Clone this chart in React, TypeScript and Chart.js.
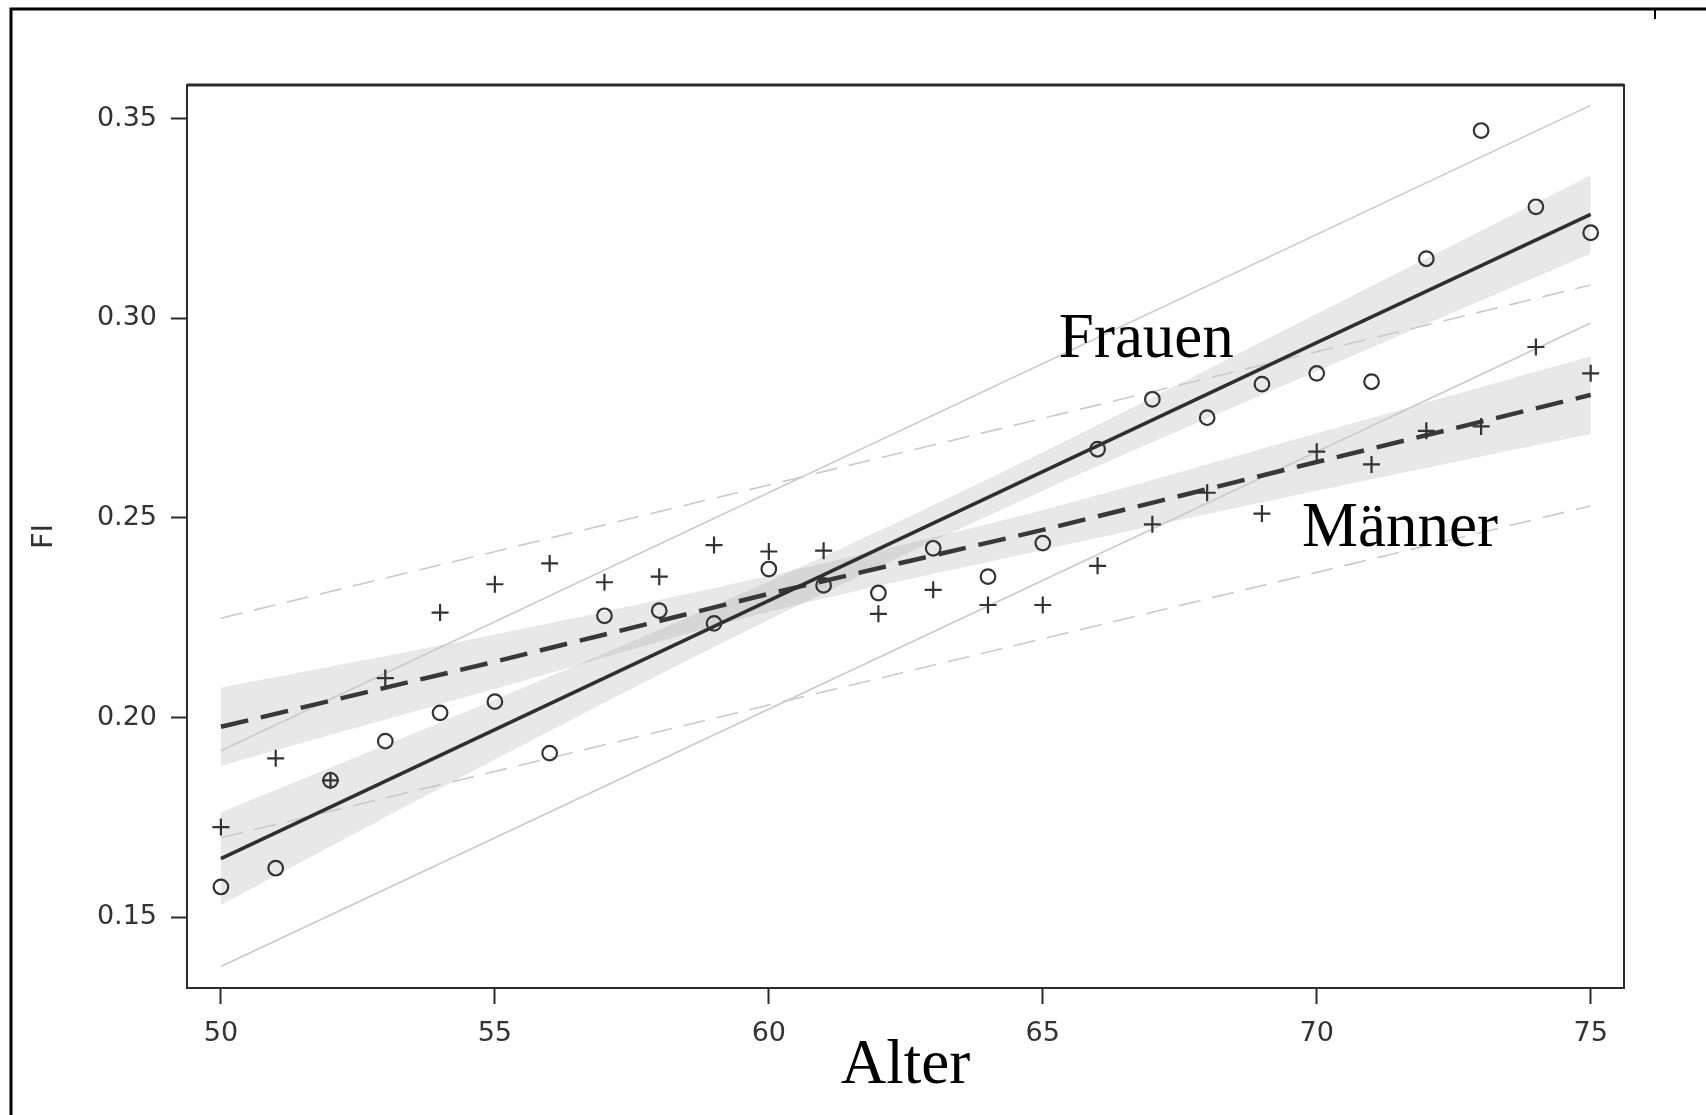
import React, { useEffect, useRef } from "react";
import { Chart, registerables } from "chart.js";

Chart.register(...registerables);

// ---- data ----
const ages = [50, 51, 52, 53, 54, 55, 56, 57, 58, 59, 60, 61, 62, 63, 64, 65, 66, 67, 68, 69, 70, 71, 72, 73, 74, 75];
const frauenFI = [0.1576, 0.1623, 0.1843, 0.1941, 0.2012, 0.204, 0.1911, 0.2255, 0.2268, 0.2236, 0.2372, 0.2331, 0.2312, 0.2424, 0.2353, 0.2437, 0.2672, 0.2797, 0.2751, 0.2835, 0.2862, 0.2841, 0.3149, 0.347, 0.3279, 0.3214];
const maennerFI = [0.1726, 0.1898, 0.1843, 0.2099, 0.2263, 0.2334, 0.2386, 0.2339, 0.2353, 0.2432, 0.2416, 0.2418, 0.226, 0.232, 0.2282, 0.2282, 0.238, 0.2484, 0.2563, 0.2511, 0.2666, 0.2634, 0.2718, 0.2729, 0.2928, 0.2862];

const fitAges = [50, 55, 60, 65, 70, 75];
const frauenFit = [0.1647, 0.197, 0.2293, 0.2616, 0.2939, 0.326];
const maennerFit = [0.1977, 0.214, 0.231, 0.247, 0.264, 0.2808];
const frauenCIUpper = [0.1763, 0.2045, 0.2341, 0.2664, 0.3011, 0.3358];
const frauenCILower = [0.1531, 0.1895, 0.2245, 0.2568, 0.2867, 0.3162];
const maennerCIUpper = [0.2075, 0.2208, 0.2355, 0.252, 0.2712, 0.2905];
const maennerCILower = [0.1879, 0.2072, 0.2265, 0.242, 0.2568, 0.2711];

const predAges = [50, 75];
const frauenPIUpper = [0.1917, 0.3533];
const frauenPILower = [0.1377, 0.2988];
const maennerPIUpper = [0.2249, 0.3083];
const maennerPILower = [0.1699, 0.253];

const xTickValues = [50, 55, 60, 65, 70, 75];
const yTickValues = [0.15, 0.2, 0.25, 0.3, 0.35];

const groupLabels = ["Frauen", "Männer"];
const groupLabelAges = [66.89, 71.52];
const groupLabelFI = [0.2903, 0.243];

const xTitle = "Alter";
const yTitle = "FI";

// ---- helpers ----
const pts = (xs: number[], ys: number[]) => xs.map((x, i) => ({ x, y: ys[i] }));

const W = 1706;
const H = 1115;

const decorPlugin = {
  id: "decor",
  beforeDraw(chart: any) {
    const ctx = chart.ctx;
    ctx.save();
    ctx.fillStyle = "#ffffff";
    ctx.fillRect(0, 0, chart.width, chart.height);
    ctx.restore();
  },
  afterDraw(chart: any) {
    const { ctx, chartArea: a, scales } = chart;
    ctx.save();
    // plot frame
    ctx.strokeStyle = "#2b2b2b";
    ctx.lineWidth = 2;
    ctx.strokeRect(a.left, a.top, a.right - a.left, a.bottom - a.top);
    ctx.lineWidth = 3;
    ctx.beginPath();
    ctx.moveTo(a.left, a.top);
    ctx.lineTo(a.right, a.top);
    ctx.stroke();
    // outer frame
    ctx.strokeStyle = "#000000";
    ctx.lineWidth = 3;
    ctx.beginPath();
    ctx.moveTo(11, H);
    ctx.lineTo(11, 9);
    ctx.lineTo(W, 9);
    ctx.stroke();
    ctx.lineWidth = 2;
    ctx.beginPath();
    ctx.moveTo(1655, 9);
    ctx.lineTo(1655, 19);
    ctx.stroke();
    // group labels
    ctx.fillStyle = "#000000";
    ctx.font = '63px "Liberation Serif", "Times New Roman", serif';
    ctx.textAlign = "center";
    ctx.textBaseline = "alphabetic";
    groupLabels.forEach((t, i) => {
      ctx.fillText(t, scales.x.getPixelForValue(groupLabelAges[i]), scales.y.getPixelForValue(groupLabelFI[i]));
    });
    ctx.restore();
  },
};

export default function App() {
  const ref = useRef<HTMLCanvasElement | null>(null);

  useEffect(() => {
    if (!ref.current) return;
    const dark = "#333333";
    const bandFill = "rgba(150,150,150,0.22)";
    const predColor = "#cacaca";

    const lineBase = { showLine: true, pointRadius: 0, fill: false };
    const bandBase = {
      type: "line",
      showLine: true,
      pointRadius: 0,
      borderWidth: 0,
      borderColor: "rgba(0,0,0,0)",
      tension: 0.3,
    };

    const chart = new Chart(ref.current, {
      type: "scatter",
      data: {
        datasets: [
          {
            label: "Frauen",
            data: pts(ages, frauenFI),
            pointStyle: "circle",
            pointRadius: 7.3,
            pointBorderWidth: 2.2,
            pointBorderColor: dark,
            pointBackgroundColor: "rgba(0,0,0,0)",
            showLine: false,
          },
          {
            label: "Männer",
            data: pts(ages, maennerFI),
            pointStyle: "cross",
            pointRadius: 8.5,
            pointBorderWidth: 2.2,
            pointBorderColor: dark,
            pointBackgroundColor: dark,
            showLine: false,
          },
          {
            ...lineBase,
            type: "line",
            label: "Frauen Regression",
            data: pts(fitAges, frauenFit),
            borderColor: "#2f2f2f",
            borderWidth: 3.6,
          },
          {
            ...lineBase,
            type: "line",
            label: "Männer Regression",
            data: pts(fitAges, maennerFit),
            borderColor: "#383838",
            borderWidth: 4.5,
            borderDash: [28, 13],
          },
          {
            ...lineBase,
            type: "line",
            label: "Frauen PI oben",
            data: pts(predAges, frauenPIUpper),
            borderColor: predColor,
            borderWidth: 1.6,
          },
          {
            ...lineBase,
            type: "line",
            label: "Frauen PI unten",
            data: pts(predAges, frauenPILower),
            borderColor: predColor,
            borderWidth: 1.6,
          },
          {
            ...lineBase,
            type: "line",
            label: "Männer PI oben",
            data: pts(predAges, maennerPIUpper),
            borderColor: predColor,
            borderWidth: 1.6,
            borderDash: [22, 12],
          },
          {
            ...lineBase,
            type: "line",
            label: "Männer PI unten",
            data: pts(predAges, maennerPILower),
            borderColor: predColor,
            borderWidth: 1.6,
            borderDash: [22, 12],
          },
          {
            ...bandBase,
            label: "Frauen KI oben",
            data: pts(fitAges, frauenCIUpper),
            backgroundColor: bandFill,
            fill: "+1",
          },
          {
            ...bandBase,
            label: "Frauen KI unten",
            data: pts(fitAges, frauenCILower),
            fill: false,
          },
          {
            ...bandBase,
            label: "Männer KI oben",
            data: pts(fitAges, maennerCIUpper),
            backgroundColor: bandFill,
            fill: "+1",
          },
          {
            ...bandBase,
            label: "Männer KI unten",
            data: pts(fitAges, maennerCILower),
            fill: false,
          },
        ] as any,
      },
      options: {
        responsive: false,
        devicePixelRatio: 1,
        animation: false,
        events: [],
        layout: { padding: { top: 85, right: 82, bottom: 0, left: 0 } },
        plugins: {
          legend: { display: false },
          tooltip: { enabled: false },
          title: { display: false },
        },
        scales: {
          x: {
            type: "linear",
            min: 49.381,
            max: 75.608,
            afterFit: (s: any) => {
              s.height = H - 988;
            },
            afterBuildTicks: (s: any) => {
              s.ticks = xTickValues.map((v) => ({ value: v }));
            },
            border: { display: false },
            grid: {
              display: true,
              drawOnChartArea: false,
              drawTicks: true,
              tickLength: 16,
              tickColor: "#2b2b2b",
              tickWidth: 2,
            },
            ticks: {
              padding: 14,
              color: "#333333",
              font: { family: '"DejaVu Sans", sans-serif', size: 27 },
              callback: (v: any) => String(v),
              maxRotation: 0,
              autoSkip: false,
            },
            title: {
              display: true,
              text: xTitle,
              color: "#000000",
              font: { family: '"Liberation Serif", "Times New Roman", serif', size: 63 },
              padding: { top: 0, bottom: 11 },
            },
          },
          y: {
            type: "linear",
            min: 0.1323,
            max: 0.3584,
            afterFit: (s: any) => {
              s.width = 187;
            },
            afterBuildTicks: (s: any) => {
              s.ticks = yTickValues.map((v) => ({ value: v }));
            },
            border: { display: false },
            grid: {
              display: true,
              drawOnChartArea: false,
              drawTicks: true,
              tickLength: 16,
              tickColor: "#2b2b2b",
              tickWidth: 2,
            },
            ticks: {
              padding: 14,
              color: "#333333",
              font: { family: '"DejaVu Sans", sans-serif', size: 27 },
              callback: (v: any) => Number(v).toFixed(2),
              autoSkip: false,
            },
            title: {
              display: true,
              text: yTitle,
              color: "#333333",
              font: { family: '"DejaVu Sans", sans-serif', size: 29 },
              padding: { top: 27, bottom: 0 },
            },
          },
        },
      } as any,
      plugins: [decorPlugin],
    });
    return () => chart.destroy();
  }, []);

  return (
    <div style={{ position: "fixed", left: 0, top: 0, width: W, height: H, background: "#fff" }}>
      <canvas ref={ref} width={W} height={H} style={{ display: "block", width: W, height: H }} />
    </div>
  );
}
